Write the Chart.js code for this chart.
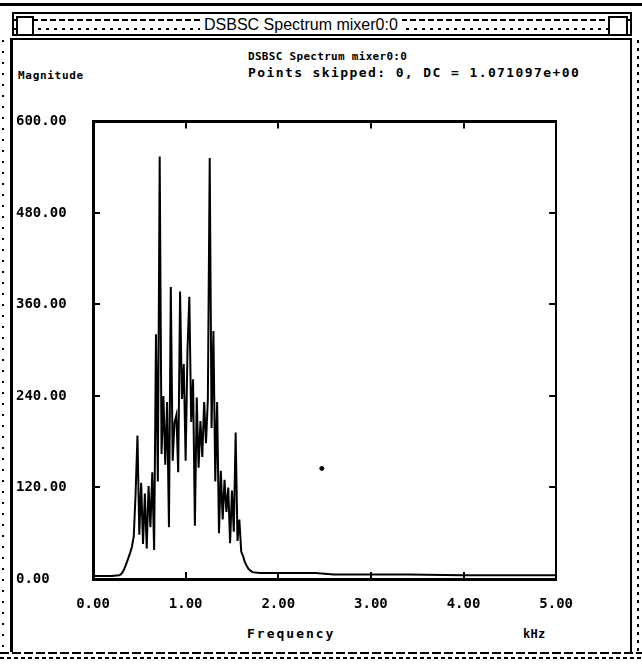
<!DOCTYPE html>
<html>
<head>
<meta charset="utf-8">
<script src="https://cdn.jsdelivr.net/npm/chart.js@4"></script>
<style>
  html, body { margin: 0; padding: 0; background: #fff; }
  body { width: 642px; height: 669px; position: relative; overflow: hidden; font-family: "DejaVu Sans Mono", monospace; color: #000; }
  .scanTop { position: absolute; left: 0; top: 3px; width: 642px; height: 3px; background: #000; }
  .titlebar { position: absolute; left: 12px; top: 12px; width: 620px; height: 24px; border: 2px solid #000; box-sizing: border-box;
    background: repeating-linear-gradient(90deg, #000 0 6px, #fff 6px 9px) 0 5px / 100% 2px no-repeat,
                repeating-linear-gradient(90deg, #000 0 3px, #fff 3px 8px) 0 14px / 100% 2px no-repeat, #fff; }
  .titlebar .btnL { position: absolute; left: 2px; top: 2px; width: 14px; height: 16px; border: 2px solid #000; background: #fff; }
  .titlebar .btnR { position: absolute; right: 2px; top: 2px; width: 16px; height: 16px; border: 2px solid #000; background: #fff; }
  .titlebar .ttl { position: absolute; left: 186px; top: 1px; padding: 0 4px; background: #fff; font-family: "Liberation Sans Narrow", "Liberation Sans", sans-serif; font-size: 16px; line-height: 19px; }
  .frame { position: absolute; left: 10px; top: 38px; width: 622px; height: 614px; border-left: 3px solid #000; border-right: 2px solid #000; border-top: 2px solid #000; box-sizing: border-box; }
  .sideL { position: absolute; left: 0; top: 40px; width: 6px; height: 615px; background: repeating-linear-gradient(180deg, #000 0 2px, #fff 2px 11px) 2px 0 / 2px 100% no-repeat; }
  .sideR { position: absolute; left: 635px; top: 40px; width: 6px; height: 615px; background: repeating-linear-gradient(180deg, #000 0 3px, #fff 3px 8px) 2px 0 / 2px 100% no-repeat; }
  .bottom { position: absolute; left: 0; top: 652px; width: 642px; height: 8px;
    background: repeating-linear-gradient(90deg, #000 0 9px, #fff 9px 12px) 0 0 / 100% 2px no-repeat,
                repeating-linear-gradient(90deg, #000 0 4px, #fff 4px 7px) 0 5px / 100% 2px no-repeat; }
  .txt { position: absolute; font-weight: bold; font-size: 11px; white-space: nowrap; letter-spacing: 0.3px; }
  canvas { position: absolute; left: 16px; top: 110px; }
</style>
</head>
<body>
<div class="scanTop"></div>
<div class="titlebar"><span class="btnL"></span><span class="ttl">DSBSC Spectrum mixer0:0</span><span class="btnR"></span></div>
<div class="sideL"></div>
<div class="sideR"></div>
<div class="frame"></div>
<div class="bottom"></div>

<div class="txt" style="left:248px; top:50px;">DSBSC Spectrum mixer0:0</div>
<div class="txt" style="left:248px; top:65px; font-size:13px; letter-spacing:1.4px;">Points skipped: 0, DC = 1.071097e+00</div>
<div class="txt" style="left:18px; top:69px; letter-spacing:0.7px;">Magnitude</div>
<div class="txt" style="left:247px; top:626px; font-size:13px; letter-spacing:2px;">Frequency</div>
<div class="txt" style="left:523px; top:627px; font-size:12px;">kHz</div>

<canvas id="spec" width="581" height="504"></canvas>

<script>
// spectrum: frequency in kHz, magnitude
const freqKHz = [
  0.00, 0.10, 0.20, 0.28,
  0.30, 0.32, 0.34, 0.36, 0.38, 0.40, 0.42, 0.44, 0.46, 0.48,
  0.50, 0.52, 0.54, 0.56, 0.58, 0.60, 0.62, 0.64, 0.66, 0.68,
  0.70, 0.72, 0.74, 0.76, 0.78, 0.80, 0.82, 0.84, 0.86, 0.88,
  0.90, 0.92, 0.94, 0.96, 0.98, 1.00, 1.02, 1.04, 1.06, 1.08,
  1.10, 1.12, 1.14, 1.16, 1.18, 1.20, 1.22, 1.24, 1.26, 1.28,
  1.30, 1.32, 1.34, 1.36, 1.38, 1.40, 1.42, 1.44, 1.46, 1.48,
  1.50, 1.52, 1.54, 1.56, 1.58, 1.60, 1.62, 1.64, 1.66, 1.68,
  1.70, 1.72,
  1.80, 2.00, 2.40, 2.60, 3.00, 3.40, 4.00, 4.40, 5.00
];
const magnitude = [
  4, 4, 4, 5,
  6, 9, 14, 20, 27, 34, 42, 56, 112, 188,
  58, 126, 46, 112, 40, 122, 68, 140, 38, 321,
  128, 554, 164, 240, 150, 232, 68, 383, 155, 205,
  215, 140, 377, 236, 282, 155, 300, 370, 206, 262,
  70, 238, 146, 207, 160, 232, 178, 236, 552, 198,
  325, 128, 232, 60, 142, 78, 130, 88, 120, 47,
  116, 62, 192, 50, 78, 36, 30, 22, 17, 13,
  11, 9,
  8, 8, 8, 6, 6, 6, 5, 5, 5
];
// lone speck inside the plot
const strayFreq = [2.47];
const strayMag = [145];

const yTicks = [0, 120, 240, 360, 480, 600];
const xTicks = [0, 1, 2, 3, 4, 5];

const tickFont = { family: 'DejaVu Sans Mono', size: 14, weight: 'bold' };

const fixTicks = list => scale => { scale.ticks = list.map(v => ({ value: v })); };
const inner = { drawOnChartArea: false, drawTicks: true, tickLength: -7, color: '#000', lineWidth: 2 };

new Chart(document.getElementById('spec'), {
  type: 'line',
  data: {
    datasets: [
      { data: freqKHz.map((f, i) => ({ x: f, y: magnitude[i] })), borderColor: '#000', borderWidth: 2, pointRadius: 0, tension: 0, fill: false },
      { type: 'scatter', data: strayFreq.map((f, i) => ({ x: f, y: strayMag[i] })), backgroundColor: '#000', borderColor: '#000', pointRadius: 2 }
    ]
  },
  options: {
    responsive: false,
    animation: false,
    devicePixelRatio: 1,
    layout: { padding: { top: 9, right: 10, left: 0, bottom: 0 } },
    plugins: { legend: { display: false }, tooltip: { enabled: false } },
    scales: {
      x: {
        type: 'linear', position: 'bottom', min: 0, max: 5,
        afterBuildTicks: fixTicks(xTicks),
        afterFit: s => { s.height = 35; },
        grid: inner,
        border: { display: true, color: '#000', width: 3 },
        ticks: { color: '#000', font: tickFont, padding: 24, maxRotation: 0, callback: v => v.toFixed(2) }
      },
      x2: {
        type: 'linear', position: 'top', min: 0, max: 5,
        afterBuildTicks: fixTicks(xTicks),
        afterFit: s => { s.height = 0; },
        grid: inner,
        border: { display: true, color: '#000', width: 3 },
        ticks: { display: false }
      },
      y: {
        type: 'linear', position: 'left', min: 0, max: 600,
        afterBuildTicks: fixTicks(yTicks),
        afterFit: s => { s.width = 77; },
        grid: inner,
        border: { display: true, color: '#000', width: 3 },
        ticks: { color: '#000', font: tickFont, crossAlign: 'far', callback: v => v.toFixed(2) }
      },
      y2: {
        type: 'linear', position: 'right', min: 0, max: 600,
        afterBuildTicks: fixTicks(yTicks),
        afterFit: s => { s.width = 0; },
        grid: inner,
        border: { display: true, color: '#000', width: 2 },
        ticks: { display: false }
      }
    }
  }
});
</script>
</body>
</html>
